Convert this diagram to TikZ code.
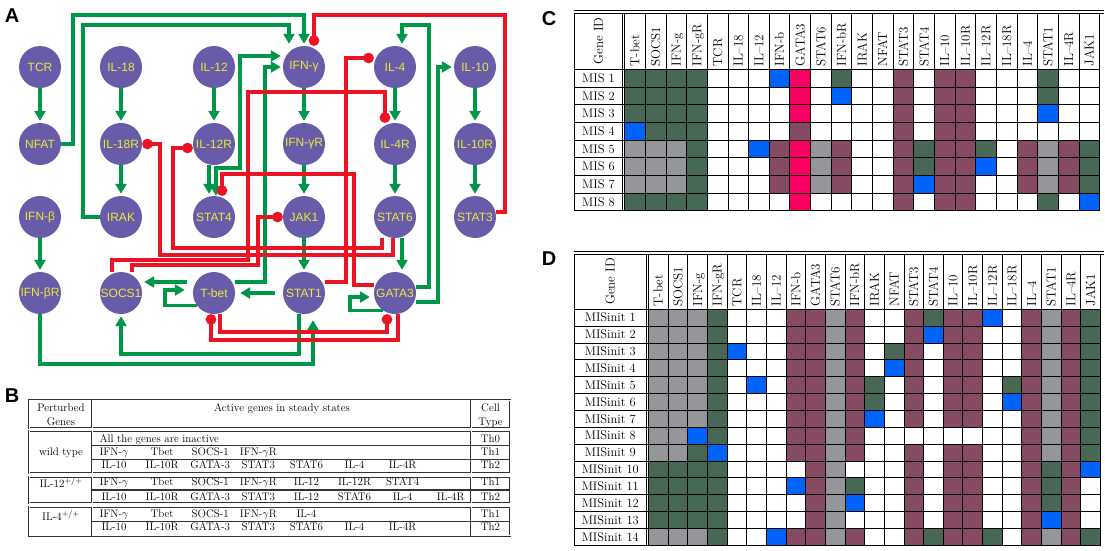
\documentclass[tikz,border=0pt]{standalone}
\usepackage{fontspec}
\usepackage{tikz}
\usetikzlibrary{arrows.meta}
\newfontfamily\netfont{Liberation Sans}
\definecolor{genefill}{RGB}{104,92,170}
\definecolor{genetext}{RGB}{236,232,60}
\definecolor{actgreen}{RGB}{0,150,72}
\definecolor{inhred}{RGB}{236,20,36}
\definecolor{cg}{RGB}{70,104,84}
\definecolor{cm}{RGB}{134,74,98}
\definecolor{ca}{RGB}{148,150,153}
\definecolor{cb}{RGB}{0,100,250}
\definecolor{cp}{RGB}{250,0,100}
\definecolor{cw}{RGB}{255,255,255}

\begin{document}
\begin{tikzpicture}[x=1pt, y=-1pt,
  gene/.style={circle, fill=genefill, text=genetext, minimum size=42pt, inner sep=0pt,
    font=\netfont\fontsize{12}{12}\selectfont},
  act/.style={draw=actgreen, line width=3.1pt, -{Triangle[length=10pt,width=11pt]}, shorten >=2pt},
  actboth/.style={act, {Triangle[length=10pt,width=11pt]}-{Triangle[length=10pt,width=11pt]}},
  inh/.style={draw=inhred, line width=3.1pt, -{Circle[length=10.5pt]}},
  panel/.style={font=\netfont\bfseries\fontsize{20}{20}\selectfont, inner sep=0pt},
  tabtext/.style={inner sep=0pt, text height=7.6pt, text depth=0pt, font=\fontsize{11}{13}\selectfont},
  tabbox/.style={draw=black!80, line width=0.7pt, double=white, double distance=0.7pt},
  tabrule/.style={draw=black!80, line width=1.2pt},
  cellrule/.style={draw=black, line width=0.9pt},
  rowname/.style={inner sep=0pt, text height=8.5pt, text depth=0pt, font=\fontsize{12.5}{14}\selectfont},
  colname/.style={rotate=90, anchor=west, inner sep=0pt, text height=8.8pt, text depth=0pt,
    font=\fontsize{13}{14}\selectfont}
]
\useasboundingbox (0,0) rectangle (1105,550);

% panel letters
\node[panel] (labA) at (12,16) {A};
\node[panel] (labB) at (12,396) {B};
\node[panel] (labC) at (549,19) {C};
\node[panel] (labD) at (549,259) {D};

% network nodes
\node[gene] (tcr) at (40,67) {TCR};
\node[gene] (il18) at (121,67) {IL-18};
\node[gene] (il12) at (214,67) {IL-12};
\node[gene] (ifng) at (304,67) {IFN-γ};
\node[gene] (il4) at (395,67) {IL-4};
\node[gene] (il10) at (475,67) {IL-10};
\node[gene] (nfat) at (40,144) {NFAT};
\node[gene] (il18r) at (121,144) {IL-18R};
\node[gene] (il12r) at (214,144) {IL-12R};
\node[gene] (ifngr) at (304,144) {IFN-γR};
\node[gene] (il4r) at (395,144) {IL-4R};
\node[gene] (il10r) at (475,144) {IL-10R};
\node[gene] (ifnb) at (40,217) {IFN-β};
\node[gene] (irak) at (121,217) {IRAK};
\node[gene] (stat4) at (214,217) {STAT4};
\node[gene] (jak1) at (304,217) {JAK1};
\node[gene] (stat6) at (395,217) {STAT6};
\node[gene] (stat3) at (475,217) {STAT3};
\node[gene] (ifnbr) at (40,293) {IFN-βR};
\node[gene] (socs1) at (121,293) {SOCS1};
\node[gene] (tbet) at (214,293) {T-bet};
\node[gene] (stat1) at (304,293) {STAT1};
\node[gene] (gata3) at (395,293) {GATA3};

% activations
\draw[act] (tcr) -- (nfat);
\draw[act] (il18) -- (il18r);
\draw[act] (il12) -- (il12r);
\draw[act] (ifng) -- (ifngr);
\draw[act] (il4) -- (il4r);
\draw[act] (il10) -- (il10r);
\draw[act] (il18r) -- (irak);
\draw[act] (ifngr) -- (jak1);
\draw[act] (il4r) -- (stat6);
\draw[act] (il10r) -- (stat3);
\draw[act] (ifnb) -- (ifnbr);
\draw[act] (jak1) -- (stat1);
\draw[act] ([xshift=7pt]stat6.south) -- ([xshift=7pt]gata3.north);
\draw[act] ([xshift=-5pt]il12r.south) -- ([xshift=-5pt]stat4.north);
\draw[act] (nfat.east) -| (73,15) -| (ifng.north);
\draw[act] (irak.west) -| (83,25) -| ([xshift=-15pt]ifng.north);
\draw[actboth] ([xshift=2pt]stat4.north) |- (240,168) |- ([yshift=11pt]ifng.west);
\draw[act] ([yshift=11pt]tbet.east) -| (265,67) -- (ifng.west);
\draw[act, shorten <=6pt] ([yshift=11pt]tbet.west) -- ([yshift=11pt]socs1.east);
\draw[act, shorten >=8pt] (tbet.215) -| (165,290) -- ([yshift=3pt]tbet.west);
\draw[act, shorten <=8pt, shorten >=5pt] (stat1.west) -- (tbet.east);
\draw[act] ([xshift=-5pt]stat1.south) |- (121,354) -- (socs1.south);
\draw[act, shorten >=6pt] (ifnbr.south) |- (313,364) -- ([xshift=9pt]stat1.south);
\draw[act, shorten >=4pt] (gata3.235) -| (350,297) -- ([yshift=-4pt]gata3.west);
\draw[act] ([yshift=6pt]gata3.east) -| (429,25) -| ([xshift=7pt]il4.north);
\draw[act] ([yshift=-9pt]gata3.east) -| (438,67) -- (il10.west);

% inhibitions
\draw[inh] ([yshift=5pt]stat3.east) -| (505,15) -| ([xshift=10pt]ifng.north);
\draw[inh] ([yshift=11pt]stat1.east) -| (346,58) -- ([yshift=9pt]il4.west);
\draw[inh] ([xshift=-9pt]socs1.north) |- (248,260) |- (385,92) -- ([xshift=-10pt]il4r.north);
\draw[inh] ([xshift=11pt]socs1.north) |- (258,265) |- (jak1.west);
\draw[inh] ([xshift=-13pt]stat6.south) |- (173,248) |- ([yshift=-4pt]il12r.west);
\draw[inh] ([xshift=-2pt]stat6.south) |- (160,255) |- (il18r.east);
\draw[inh] ([yshift=8pt]gata3.west) -| (354,174) -| ([xshift=8pt]stat4.north);
\draw[inh] ([xshift=6pt]tbet.south) |- (387,332) -- ([xshift=-8pt]gata3.south);
\draw[inh] ([xshift=3pt]gata3.south) |- (211,340) -- ([xshift=-3pt]tbet.south);

% table B
\foreach \ya/\yb in {400/428.3, 430.7/473.3, 476.7/503.3, 506.7/535.7} {
  \draw[tabbox] (29.3,\ya) rectangle (510,\yb);
  \draw[tabbox] (92.3,\ya) -- (92.3,\yb);
  \draw[tabbox] (471,\ya) -- (471,\yb);
}
\foreach \yy in {445.7, 459.3, 490, 521.7}
  \draw[tabrule] (92.3,\yy) -- (510,\yy);
\node[tabtext] (bpert1) at (61,407.3) {Perturbed};
\node[tabtext] (bpert2) at (61,421.7) {Genes};
\node[tabtext] (bact) at (282,407.3) {Active genes in steady states};
\node[tabtext] (bcell1) at (490.5,407.3) {Cell};
\node[tabtext] (bcell2) at (490.5,421.7) {Type};
\node[tabtext] (bwild) at (61,451.7) {wild type};
\node[tabtext] (bil12) at (61,484) {IL-12$^{+/+}$};
\node[tabtext] (bil4) at (61,517) {IL-4$^{+/+}$};
\node[tabtext, anchor=west] (bnone) at (99.3,438.3) {All the genes are inactive};
\foreach \gn [count=\k] in {IFN-$\gamma$, Tbet, SOCS-1, IFN-$\gamma$R}
  \node[tabtext] (bwa\k) at ({114+48.1*(\k-1)},451.7) {\gn};
\foreach \gn [count=\k] in {IL-10, IL-10R, GATA-3, STAT3, STAT6, IL-4, IL-4R}
  \node[tabtext] (bwb\k) at ({114+48.1*(\k-1)},465) {\gn};
\foreach \gn [count=\k] in {IFN-$\gamma$, Tbet, SOCS-1, IFN-$\gamma$R, IL-12, IL-12R, STAT4}
  \node[tabtext] (bta\k) at ({114+48.1*(\k-1)},481.7) {\gn};
\foreach \gn [count=\k] in {IL-10, IL-10R, GATA-3, STAT3, IL-12, STAT6, IL-4, IL-4R}
  \node[tabtext] (btb\k) at ({114+48.1*(\k-1)},496.7) {\gn};
\foreach \gn [count=\k] in {IFN-$\gamma$, Tbet, SOCS-1, IFN-$\gamma$R, IL-4}
  \node[tabtext] (bfa\k) at ({114+48.1*(\k-1)},513.3) {\gn};
\foreach \gn [count=\k] in {IL-10, IL-10R, GATA-3, STAT3, STAT6, IL-4, IL-4R}
  \node[tabtext] (bfb\k) at ({114+48.1*(\k-1)},526.7) {\gn};
\foreach \ct/\yy [count=\k] in {Th0/438.3, Th1/451.7, Th2/465, Th1/481.7, Th2/496.7, Th1/513.3, Th2/526.7}
  \node[tabtext] (bct\k) at (490.5,\yy) {\ct};

% table C
\foreach \cells [count=\r] in {
  {g,g,g,g,w,w,w,b,p,w,g,w,w,m,w,m,m,w,w,w,g,w,w},
  {g,g,g,g,w,w,w,w,p,w,b,w,w,m,w,m,m,w,w,w,g,w,w},
  {g,g,g,g,w,w,w,w,p,w,w,w,w,m,w,m,m,w,w,w,b,w,w},
  {b,g,g,g,w,w,w,w,m,w,w,w,w,m,w,m,m,w,w,w,w,w,w},
  {a,a,a,g,w,w,b,m,p,a,m,w,w,m,g,m,m,g,w,m,a,m,g},
  {a,a,a,g,w,w,w,m,p,a,m,w,w,m,g,m,m,b,w,m,a,m,g},
  {a,a,a,g,w,w,w,m,p,a,m,w,w,m,b,m,m,w,w,m,a,m,g},
  {g,g,g,g,w,w,w,w,p,w,w,w,w,m,w,m,m,w,w,w,g,w,b}} {
  \foreach \cl [count=\k] in \cells
    \fill[fill=c\cl] ({624.7+20.65*(\k-1)},{69.3+17.7*(\r-1)}) rectangle ++(20.65,17.7);
  \node[rowname] (mis\r) at (598.5,{69.3+17.7*(\r-0.5)}) {MIS \r};
}
\foreach \k in {0,...,23}
  \draw[cellrule] ({624.7+20.65*\k},13) -- ({624.7+20.65*\k},211);
\draw[cellrule] (622.3,13) -- (622.3,211);
\draw[cellrule] (574.2,13) -- (574.2,211);
\foreach \r in {0,...,8}
  \draw[cellrule] (574.2,{69.3+17.7*\r}) -- (1099.6,{69.3+17.7*\r});
\draw[cellrule] (574.2,10) -- (1104,10);
\draw[cellrule] (574.2,13) -- (1104,13);
\node[colname, anchor=center] (cgeneid) at (598.5,41) {Gene ID};
\foreach \gn [count=\k] in {T-bet,SOCS1,IFN-g,IFN-gR,TCR,IL--18,IL--12,IFN-b,GATA3,STAT6,IFN-bR,IRAK,NFAT,STAT3,STAT4,IL--10,IL--10R,IL--12R,IL--18R,IL--4,STAT1,IL--4R,JAK1}
  \node[colname] (chd\k) at ({624.7+20.65*(\k-0.5)},66.5) {\gn};

% table D
\foreach \cells [count=\r] in {
  {a,a,a,g,w,w,w,m,m,a,m,w,w,m,g,m,m,b,w,m,a,m,g},
  {a,a,a,g,w,w,w,m,m,a,m,w,w,m,b,m,m,w,w,m,a,m,g},
  {a,a,a,g,b,w,w,m,m,a,m,w,g,m,w,m,m,w,w,m,a,m,g},
  {a,a,a,g,w,w,w,m,m,a,m,w,b,m,w,m,m,w,w,m,a,m,g},
  {a,a,a,g,w,b,w,m,m,a,m,g,w,m,w,m,m,w,g,m,a,m,g},
  {a,a,a,g,w,w,w,m,m,a,m,g,w,m,w,m,m,w,b,m,a,m,g},
  {a,a,a,g,w,w,w,m,m,a,m,b,w,m,w,m,m,w,w,m,a,m,g},
  {a,a,b,g,w,w,w,m,m,a,m,w,w,w,w,w,w,w,w,m,a,m,g},
  {a,a,g,b,w,w,w,m,m,a,m,w,w,m,w,m,m,w,w,m,a,m,g},
  {g,g,g,g,w,w,w,w,m,a,w,w,w,m,w,m,m,w,w,m,g,m,b},
  {g,g,g,g,w,w,w,b,m,a,g,w,w,m,w,m,m,w,w,m,g,m,w},
  {g,g,g,g,w,w,w,w,m,a,b,w,w,m,w,m,m,w,w,m,g,m,w},
  {g,g,g,g,w,w,w,w,m,a,w,w,w,m,w,m,m,w,w,m,b,m,w},
  {a,a,a,g,w,w,b,m,m,a,m,w,w,m,g,m,m,g,w,m,a,m,g}} {
  \foreach \cl [count=\k] in \cells
    \fill[fill=c\cl] ({648.5+19.65*(\k-1)},{309.3+16.85*(\r-1)}) rectangle ++(19.65,16.85);
  \node[rowname] (misinit\r) at (610.3,{309.3+16.85*(\r-0.5)}) {MISinit \r};
}
\foreach \k in {0,...,23}
  \draw[cellrule] ({648.5+19.65*\k},254) -- ({648.5+19.65*\k},545.2);
\draw[cellrule] (646.1,254) -- (646.1,545.2);
\draw[cellrule] (574.2,254) -- (574.2,545.2);
\foreach \r in {0,...,14}
  \draw[cellrule] (574.2,{309.3+16.85*\r}) -- (1100.5,{309.3+16.85*\r});
\draw[cellrule] (574.2,251) -- (1104,251);
\draw[cellrule] (574.2,254) -- (1104,254);
\node[colname, anchor=center] (dgeneid) at (610.3,281.5) {Gene ID};
\foreach \gn [count=\k] in {T-bet,SOCS1,IFN-g,IFN-gR,TCR,IL--18,IL--12,IFN-b,GATA3,STAT6,IFN-bR,IRAK,NFAT,STAT3,STAT4,IL--10,IL--10R,IL--12R,IL--18R,IL--4,STAT1,IL--4R,JAK1}
  \node[colname] (dhd\k) at ({648.5+19.65*(\k-0.5)},306.5) {\gn};
\end{tikzpicture}
\end{document}
